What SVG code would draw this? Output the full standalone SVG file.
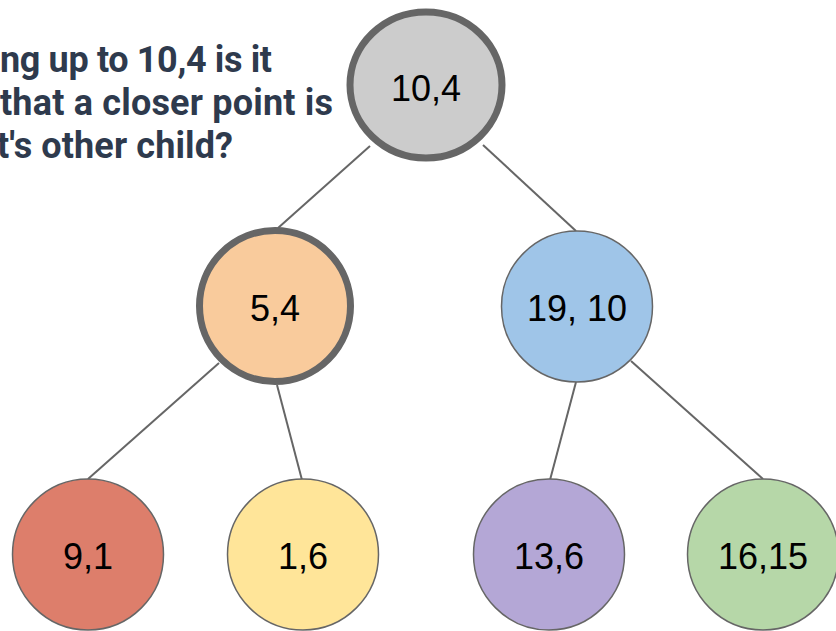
<svg xmlns="http://www.w3.org/2000/svg" width="836" height="631" viewBox="0 0 836 631">
<style>
.q{font-family:Roboto,"Liberation Sans",sans-serif;font-weight:bold;font-size:36px;fill:#2e3a4d}
.lbl{font-family:"Liberation Sans",Arial,sans-serif;font-size:36px;fill:#000;text-anchor:middle}
.thin{stroke:#666;stroke-width:1.5}
.thick{stroke:#666;stroke-width:7}
.edge{stroke:#666;stroke-width:2;fill:none}
</style>
<rect width="836" height="631" fill="#fff"/>
<g id="question">
<text class="q" x="0" y="72" textLength="272" lengthAdjust="spacing">ng up to 10,4 is it</text>
<text class="q" x="0" y="115" textLength="333" lengthAdjust="spacing">that a closer point is</text>
<text class="q" x="-3" y="158" textLength="236" lengthAdjust="spacing">t's other child?</text>
</g>
<g id="connectors">
<line class="edge" x1="370" y1="146" x2="278" y2="228"/>
<line class="edge" x1="483" y1="145" x2="576" y2="231"/>
<line class="edge" x1="219" y1="363" x2="88" y2="479"/>
<line class="edge" x1="277" y1="385" x2="302" y2="480"/>
<line class="edge" x1="576" y1="382" x2="550" y2="480"/>
<line class="edge" x1="631" y1="361" x2="763" y2="479"/>
</g>
<g id="n10_4">
<ellipse class="thick" cx="426" cy="85" rx="76" ry="73" fill="#cccccc"/>
<text class="lbl" x="426" y="101">10,4</text>
</g>
<g id="n5_4">
<circle class="thick" cx="275" cy="306" r="75.5" fill="#f9cb9c"/>
<text class="lbl" x="275" y="321">5,4</text>
</g>
<g id="n19_10">
<circle class="thin" cx="577" cy="306.5" r="75.5" fill="#9fc5e8"/>
<text class="lbl" x="577" y="321">19, 10</text>
</g>
<g id="n9_1">
<circle class="thin" cx="88" cy="554.5" r="75.5" fill="#dd7e6b"/>
<text class="lbl" x="88" y="569">9,1</text>
</g>
<g id="n1_6">
<circle class="thin" cx="303" cy="554.5" r="75.5" fill="#ffe599"/>
<text class="lbl" x="303" y="569">1,6</text>
</g>
<g id="n13_6">
<circle class="thin" cx="549" cy="554.5" r="75.5" fill="#b4a7d6"/>
<text class="lbl" x="549" y="569">13,6</text>
</g>
<g id="n16_15">
<circle class="thin" cx="763" cy="554.5" r="75.5" fill="#b6d7a8"/>
<text class="lbl" x="763" y="569">16,15</text>
</g>
</svg>
